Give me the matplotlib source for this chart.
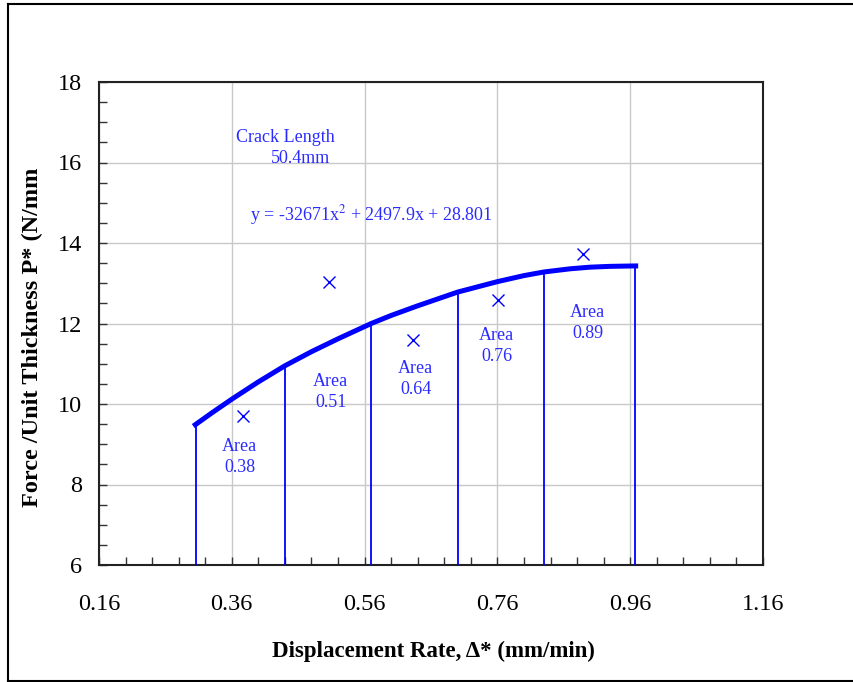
import matplotlib.pyplot as plt
from matplotlib.lines import Line2D
from matplotlib.ticker import MultipleLocator

plt.rcParams['font.family'] = ['Liberation Serif', 'DejaVu Serif']

# fitted load curve (displacement rate vs force per unit thickness)
curve_x = [0.302, 0.33, 0.36, 0.40, 0.44, 0.48, 0.52, 0.57, 0.60, 0.64, 0.70, 0.76,
           0.80, 0.83, 0.87, 0.90, 0.93, 0.967, 0.972]
curve_y = [9.45, 9.78, 10.12, 10.55, 10.95, 11.30, 11.62, 12.0, 12.2, 12.44, 12.78, 13.04,
           13.19, 13.28, 13.36, 13.40, 13.42, 13.43, 13.43]

# strip boundaries and curve height at each
strip_x = [0.306, 0.440, 0.570, 0.701, 0.830, 0.967]
strip_top = [9.47, 10.95, 12.0, 12.78, 13.28, 13.43]

# strip centres / mean forces
mark_x = [0.377, 0.506, 0.633, 0.761, 0.889]
mark_y = [9.70, 13.03, 11.59, 12.58, 13.73]

area_vals = ['0.38', '0.51', '0.64', '0.76', '0.89']
area_x = [0.372, 0.509, 0.637, 0.759, 0.896]
area_y = [8.68, 10.30, 10.62, 11.44, 12.01]

blue = '#0000ff'
txt_blue = '#2b2bff'

fig = plt.figure(figsize=(8.54, 6.82), dpi=100)
ax = fig.add_axes([99 / 854, 1 - 565 / 682, 664 / 854, 483 / 682])

ax.plot(curve_x, curve_y, color=blue, lw=3.6, solid_capstyle='butt',
        solid_joinstyle='round', zorder=4)
ax.vlines(strip_x, 6, strip_top, color=blue, lw=1.3, zorder=3)
ax.plot(mark_x, mark_y, ls='none', marker='x', ms=8, mew=1.0, color=blue, zorder=4)

for xv, yv, a in zip(area_x, area_y, area_vals):
    ax.text(xv, yv, 'Area\n' + a, color=txt_blue, fontsize=13, ha='center', va='center',
            linespacing=1.35)

ax.text(0.440, 16.63, 'Crack Length', color=txt_blue, fontsize=13, ha='center', va='center')
ax.text(0.463, 16.11, '50.4mm', color=txt_blue, fontsize=13, ha='center', va='center')
ax.text(0.571, 14.70, 'y = -32671x$^{2}$ + 2497.9x + 28.801', color=txt_blue, fontsize=13,
        ha='center', va='center', math_fontfamily='stix')

ax.set_xlim(0.16, 1.16)
ax.set_ylim(6, 18)
ax.set_xticks([0.16, 0.36, 0.56, 0.76, 0.96, 1.16])
ax.set_xticklabels(['0.16', '0.36', '0.56', '0.76', '0.96', '1.16'])
ax.set_yticks([6, 8, 10, 12, 14, 16, 18])
ax.xaxis.set_minor_locator(MultipleLocator(0.04))
ax.yaxis.set_minor_locator(MultipleLocator(0.5))
ax.grid(True, which='major', color='#c8c8c8', lw=1.0)
ax.set_axisbelow(True)
ax.tick_params(which='both', direction='in', length=6, width=1, color='#333333',
               top=False, right=False)
ax.tick_params(axis='x', labelsize=17.5, pad=21)
ax.tick_params(axis='y', labelsize=17.5, pad=12)
for s in ax.spines.values():
    s.set_linewidth(1.5)
    s.set_color('#222222')

fig.text(433 / 854, 1 - 651 / 682, 'Displacement Rate, Δ* (mm/min)', fontsize=16.5,
         fontweight='bold', ha='center', va='center')
fig.text(32 / 854, 1 - 337 / 682, 'Force /Unit Thickness P* (N/mm', fontsize=17.5,
         fontweight='bold', ha='center', va='center', rotation=90)

# outer chart frame
frame = dict(color='black', lw=1.5, transform=fig.transFigure)
fig.add_artist(Line2D([8 / 854, 8 / 854], [1 - 4 / 682, 1 - 681 / 682], **frame))
fig.add_artist(Line2D([8 / 854, 1.0], [1 - 4 / 682, 1 - 4 / 682], **frame))
fig.add_artist(Line2D([8 / 854, 1.0], [1 - 681 / 682, 1 - 681 / 682], **frame))

fig.savefig('out.png', dpi=100)
